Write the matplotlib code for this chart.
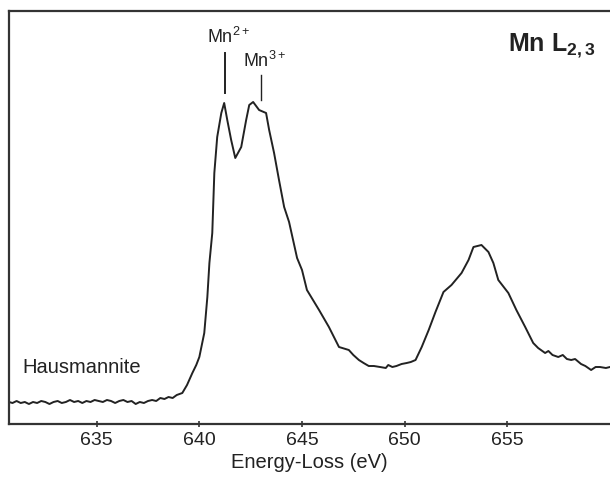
import matplotlib
matplotlib.use("Agg")
import matplotlib.pyplot as plt

plt.rcParams['font.family'] = ['Liberation Sans', 'DejaVu Sans']
plt.rcParams['mathtext.fontset'] = 'custom'
plt.rcParams['mathtext.rm'] = 'Liberation Sans'
plt.rcParams['mathtext.it'] = 'Liberation Sans:italic'
plt.rcParams['mathtext.bf'] = 'Liberation Sans:bold'

# Data (energy loss in eV, intensity in arbitrary units)
energy = [
    630.73, 630.9, 631.1, 631.3, 631.5, 631.7, 631.9, 632.1, 632.3, 632.5,
    632.7, 632.9, 633.1, 633.3, 633.5, 633.7, 633.9, 634.1, 634.3, 634.5,
    634.7, 634.9, 635.1, 635.3, 635.5, 635.7, 635.9, 636.1, 636.3, 636.5,
    636.7, 636.9, 637.1, 637.3, 637.5, 637.7, 637.9, 638.1, 638.3, 638.5,
    638.7, 638.9, 639.17, 639.4, 639.66, 639.85, 640.0, 640.24, 640.39, 640.49,
    640.63, 640.73, 640.87, 641.07, 641.21, 641.36, 641.55, 641.75, 642.04, 642.28,
    642.43, 642.62, 642.91, 643.25, 643.4, 643.64, 643.88, 644.13, 644.37, 644.76,
    645.0, 645.24, 645.83, 646.31, 646.8, 647.28, 647.5, 647.77, 648.0, 648.25,
    648.5, 648.8, 649.08, 649.2, 649.4, 649.6, 649.85, 650.1, 650.3, 650.53,
    650.83, 651.17, 651.5, 651.89, 652.28, 652.77, 653.11, 653.35, 653.74, 654.08,
    654.32, 654.56, 655.05, 655.44, 655.87, 656.26, 656.5, 656.84, 657.0, 657.2,
    657.48, 657.7, 657.9, 658.11, 658.3, 658.59, 658.8, 659.08, 659.3, 659.51,
    659.8, 660.0,
]
intensity = [
    23, 22, 24, 22, 23, 21, 23, 22, 24, 23,
    21, 23, 24, 22, 23, 25, 23, 24, 22, 24,
    23, 25, 24, 23, 25, 24, 22, 24, 25, 23,
    24, 21, 23, 22, 24, 25, 24, 27, 26, 28,
    27, 30, 32, 40, 52, 60, 68, 92, 128, 162,
    192, 252, 288, 312, 322, 305, 285, 267, 278, 305,
    320, 323, 315, 312, 295, 272, 245, 218, 203, 167,
    155, 135, 115, 98, 78, 75, 70, 65, 62, 59,
    59, 58, 57, 60, 58, 59, 61, 62, 63, 65,
    78, 95, 113, 133, 140, 152, 165, 178, 180, 173,
    162, 145, 132, 115, 98, 82, 77, 72, 74, 70,
    68, 70, 66, 65, 66, 61, 59, 55, 58, 58,
    57, 58,
]

xticks = [635, 640, 645, 650, 655]

INK = '#222222'

fig = plt.figure(figsize=(6.10, 4.83), dpi=100)
ax = fig.add_axes([9 / 610, 59 / 483, 1 - 9 / 610, 413 / 483])

ax.plot(energy, intensity, color=INK, linewidth=1.4)

ax.set_xlim(630.73, 660.0)
ax.set_ylim(1, 414)

# Peak markers
ax.plot([641.25, 641.25], [332, 372], color=INK, linewidth=1.4)
ax.plot([642.98, 642.98], [325, 350], color=INK, linewidth=1.0)
ax.text(641.41, 382, r'Mn$^{\mathrm{2+}}$', ha='center', va='baseline',
        fontsize=13, color=INK)
ax.text(643.18, 358, r'Mn$^{\mathrm{3+}}$', ha='center', va='baseline',
        fontsize=13, color=INK)

ax.text(631.36, 52, 'Hausmannite', ha='left', va='baseline',
        fontsize=14.5, color=INK)
ax.text(659.3, 374, r'$\mathbf{Mn\ L_{2,3}}$', ha='right', va='baseline',
        fontsize=18, color=INK)

# Axis styling
for side in ['left', 'bottom', 'top']:
    ax.spines[side].set_linewidth(1.6)
    ax.spines[side].set_color('#333333')
ax.spines['right'].set_visible(False)

ax.set_xticks(xticks)
ax.tick_params(axis='x', direction='inout', length=4, width=1.2,
               colors='#333333', labelsize=14, labelcolor=INK, pad=4)
ax.set_yticks([])
ax.set_xlabel('Energy-Loss (eV)', fontsize=14.5, color=INK, labelpad=3)

fig.savefig('out.png', dpi=100)
